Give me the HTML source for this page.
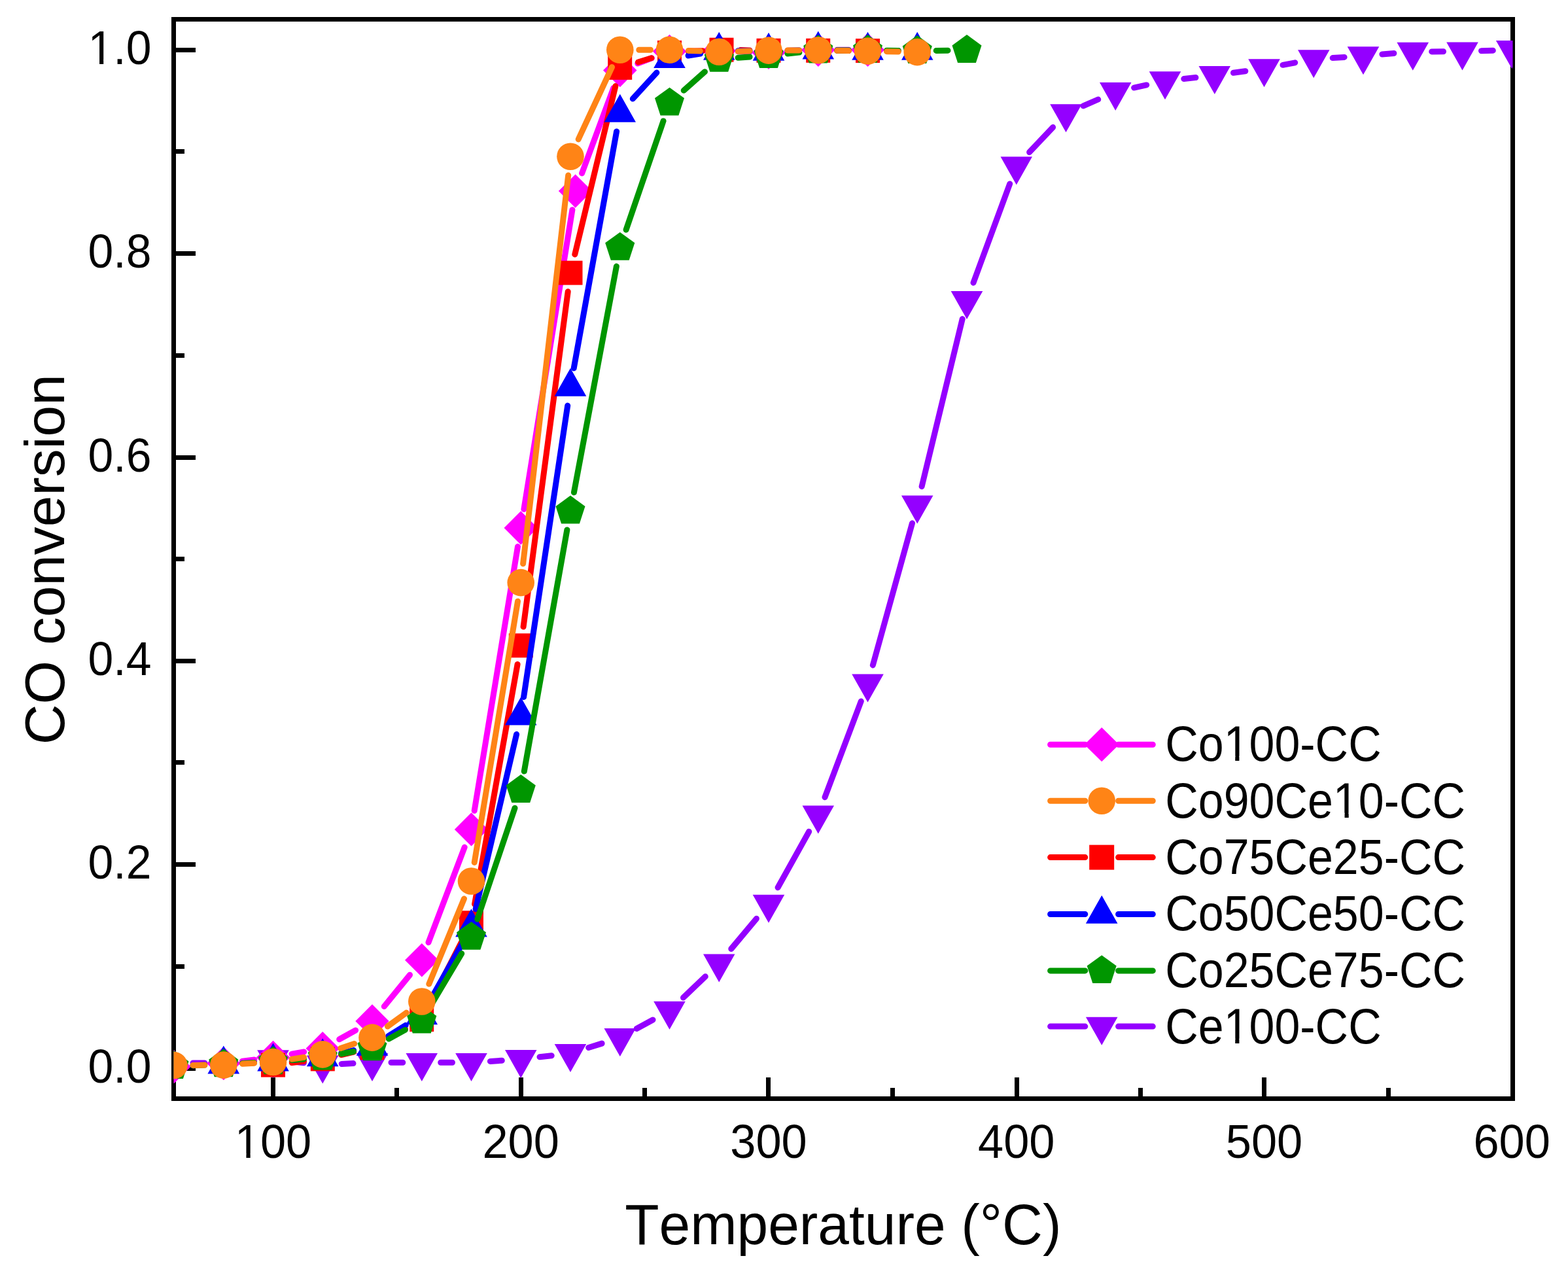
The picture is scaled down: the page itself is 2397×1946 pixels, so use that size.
<!DOCTYPE html>
<html><head><meta charset="utf-8"><title>CO conversion vs Temperature</title>
<style>html,body{margin:0;padding:0;background:#fff;width:2397px;height:1946px;overflow:hidden}svg{display:block;font-kerning:none;font-feature-settings:"kern" 0}</style>
</head><body>
<svg width="2397" height="1946" viewBox="0 0 2397 1946" font-family="'Liberation Sans', Arial, sans-serif" fill="#000">
<rect x="0" y="0" width="2397" height="1946" fill="#fff"/>
<path d="M265.5 1633.5H299M265.5 1321.5H299M265.5 1010.5H299M265.5 699.5H299M265.5 387.5H299M265.5 76.5H299M265.5 1477.5H282M265.5 1165.5H282M265.5 854.5H282M265.5 543.5H282M265.5 231.5H282M417.5 1679.5V1647M796.5 1679.5V1647M1174.5 1679.5V1647M1554.5 1679.5V1647M1932.5 1679.5V1647M606.5 1679.5V1663M985.5 1679.5V1663M1364.5 1679.5V1663M1743.5 1679.5V1663M2122.5 1679.5V1663" stroke="#000" stroke-width="7" fill="none"/>
<rect x="265.5" y="29.5" width="2047" height="1650" stroke="#000" stroke-width="7" fill="none"/>
<clipPath id="c"><rect x="265.5" y="29.5" width="2047" height="1650"/></clipPath>
<g clip-path="url(#c)">
<path d="M295 1625L312.8 1625M370.7 1622.9L388.6 1621.6M446.3 1622.7L464.4 1624.7M522.2 1626.4L540 1625.6M598 1624.2L615.8 1624.2M673.7 1624.3L691.5 1624.3M749.4 1622.4L767.3 1621.2M825 1615.8L843.2 1613.7M899.7 1601.5L920.1 1595.1M973.2 1572.5L998 1559M1044.5 1525.1L1078.3 1492.8M1117.8 1450.5L1156.4 1404.3M1189.1 1356.7L1236.7 1271.2M1261 1218.7L1316.3 1072M1334.3 1016.9L1394.5 799.8M1409.1 743.7L1471.2 487.6M1488 432.2L1543.7 281M1573.6 232.7L1609.6 194.6M1656.1 161.9L1678.7 152M1733.6 134.1L1752.7 129.9M1809.8 120.5L1827.9 118.6M1885.5 111.3L1903.8 108.7M1961 99.3L1979.7 95.8M2037.2 88.6L2055.1 87.4M2112.9 83L2130.9 81.5M2188.7 78.9L2206.5 78.8M2264.5 77.7L2282.3 77.2" stroke="#9400FF" stroke-width="9" stroke-linecap="round" fill="none"/>
<polygon points="417.5,1648.2 441.8,1605.2 393.2,1605.2" fill="#9400FF"/>
<polygon points="493.2,1656.5 517.5,1613.5 468.9,1613.5" fill="#9400FF"/>
<polygon points="569,1652.9 593.3,1609.9 544.7,1609.9" fill="#9400FF"/>
<polygon points="644.8,1652.9 669,1609.9 620.5,1609.9" fill="#9400FF"/>
<polygon points="720.5,1653.1 744.8,1610.1 696.2,1610.1" fill="#9400FF"/>
<polygon points="796.2,1647.9 820.5,1604.9 772,1604.9" fill="#9400FF"/>
<polygon points="872,1638.9 896.3,1595.9 847.7,1595.9" fill="#9400FF"/>
<polygon points="947.8,1615.1 972,1572.1 923.5,1572.1" fill="#9400FF"/>
<polygon points="1023.5,1573.8 1047.8,1530.8 999.2,1530.8" fill="#9400FF"/>
<polygon points="1099.2,1501.4 1123.5,1458.4 1075,1458.4" fill="#9400FF"/>
<polygon points="1175,1410.7 1199.3,1367.7 1150.7,1367.7" fill="#9400FF"/>
<polygon points="1250.8,1274.5 1275,1231.5 1226.5,1231.5" fill="#9400FF"/>
<polygon points="1326.5,1073.5 1350.8,1030.5 1302.2,1030.5" fill="#9400FF"/>
<polygon points="1402.2,800.5 1426.5,757.5 1378,757.5" fill="#9400FF"/>
<polygon points="1478,488.1 1502.3,445.1 1453.7,445.1" fill="#9400FF"/>
<polygon points="1553.8,282.5 1578,239.5 1529.5,239.5" fill="#9400FF"/>
<polygon points="1629.5,202.2 1653.8,159.2 1605.2,159.2" fill="#9400FF"/>
<polygon points="1705.2,169 1729.5,126 1681,126" fill="#9400FF"/>
<polygon points="1781,152.3 1805.3,109.3 1756.7,109.3" fill="#9400FF"/>
<polygon points="1856.8,144.1 1881,101.1 1832.5,101.1" fill="#9400FF"/>
<polygon points="1932.5,133.2 1956.8,90.2 1908.2,90.2" fill="#9400FF"/>
<polygon points="2008.2,119.2 2032.5,76.2 1984,76.2" fill="#9400FF"/>
<polygon points="2084,114.2 2108.3,71.2 2059.7,71.2" fill="#9400FF"/>
<polygon points="2159.8,107.7 2184.1,64.7 2135.4,64.7" fill="#9400FF"/>
<polygon points="2235.5,107.4 2259.8,64.4 2211.2,64.4" fill="#9400FF"/>
<polygon points="2311.2,104.9 2335.6,61.9 2286.9,61.9" fill="#9400FF"/>
<path d="M294.9 1628.7L312.8 1627.5M370.5 1622.1L388.7 1619.9M446 1611.3L464.7 1607.9M518.7 1588.8L543.6 1575M587.3 1538.5L626.5 1490.3M655 1440.7L710.2 1295.1M725.2 1239.3L791.5 835.6M800.9 778.4L874.9 320.7M889.6 264.9L937.7 134.7M974.8 97.1L996.4 88.8M1052.5 78.1L1070.3 78M1128.2 78.8L1146 79.4M1204 78.8L1221.8 77.8M1279.8 76.2L1297.5 76.2" stroke="#FF00FF" stroke-width="9" stroke-linecap="round" fill="none"/>
<polygon points="266,1604.9 291.7,1630.6 266,1656.3 240.3,1630.6" fill="#FF00FF"/>
<polygon points="341.8,1599.9 367.4,1625.6 341.8,1651.3 316.1,1625.6" fill="#FF00FF"/>
<polygon points="417.5,1590.8 443.2,1616.5 417.5,1642.2 391.8,1616.5" fill="#FF00FF"/>
<polygon points="493.2,1577.1 519,1602.8 493.2,1628.5 467.6,1602.8" fill="#FF00FF"/>
<polygon points="569,1535.3 594.7,1561 569,1586.7 543.3,1561" fill="#FF00FF"/>
<polygon points="644.8,1442.1 670.5,1467.8 644.8,1493.5 619,1467.8" fill="#FF00FF"/>
<polygon points="720.5,1242.2 746.2,1267.9 720.5,1293.6 694.8,1267.9" fill="#FF00FF"/>
<polygon points="796.2,781.3 822,807 796.2,832.7 770.5,807" fill="#FF00FF"/>
<polygon points="879.6,266.4 905.3,292.1 879.6,317.8 853.9,292.1" fill="#FF00FF"/>
<polygon points="947.8,81.8 973.5,107.5 947.8,133.2 922,107.5" fill="#FF00FF"/>
<polygon points="1023.5,52.7 1049.2,78.4 1023.5,104.1 997.8,78.4" fill="#FF00FF"/>
<polygon points="1099.2,52.1 1125,77.8 1099.2,103.5 1073.5,77.8" fill="#FF00FF"/>
<polygon points="1175,54.7 1200.7,80.4 1175,106.1 1149.3,80.4" fill="#FF00FF"/>
<polygon points="1250.8,50.5 1276.5,76.2 1250.8,101.9 1225,76.2" fill="#FF00FF"/>
<polygon points="1326.5,50.5 1352.2,76.2 1326.5,101.9 1300.8,76.2" fill="#FF00FF"/>
<path d="M446.3 1624.6L464.5 1622.4M521.5 1612.5L540.7 1608.1M594.2 1587.3L619.5 1572.9M658 1532.7L707.3 1436.5M725.6 1382.1L791.1 1015.4M800.1 958.1L868.2 445.8M878.8 388.9L940.9 131.6M975.5 95L995.8 88.8M1052.5 78.9L1074.1 77.7M1132 76.6L1146 76.9M1204 77.3L1221.8 77.3M1279.7 77.4L1297.5 77.5" stroke="#FF0000" stroke-width="9" stroke-linecap="round" fill="none"/>
<rect x="399" y="1609.6" width="37" height="37" fill="#FF0000"/>
<rect x="474.8" y="1600.4" width="37" height="37" fill="#FF0000"/>
<rect x="550.5" y="1583.2" width="37" height="37" fill="#FF0000"/>
<rect x="626.2" y="1540.1" width="37" height="37" fill="#FF0000"/>
<rect x="702" y="1392.2" width="37" height="37" fill="#FF0000"/>
<rect x="777.8" y="968.3" width="37" height="37" fill="#FF0000"/>
<rect x="853.5" y="398.6" width="37" height="37" fill="#FF0000"/>
<rect x="929.2" y="84.9" width="37" height="37" fill="#FF0000"/>
<rect x="1005" y="61.9" width="37" height="37" fill="#FF0000"/>
<rect x="1084.5" y="57.7" width="37" height="37" fill="#FF0000"/>
<rect x="1156.5" y="58.8" width="37" height="37" fill="#FF0000"/>
<rect x="1232.2" y="58.8" width="37" height="37" fill="#FF0000"/>
<rect x="1308" y="59.1" width="37" height="37" fill="#FF0000"/>
<path d="M370.7 1625.6L388.5 1624.7M446.4 1620.4L464.4 1618.7M521.6 1609.8L540.7 1605.6M593.6 1583.9L620.2 1567.3M659 1526.6L706.2 1443.2M727.1 1389.8L789.6 1122.5M800.6 1065.5L867.7 620.1M877.2 562.9L942.6 200.9M967.3 151L1003.9 111M1052.1 85L1070.6 82M1128.2 77.8L1146 78M1204 77.5L1221.8 77M1279.7 76.7L1297.5 77M1355.5 77.4L1373.2 77.4" stroke="#0000FF" stroke-width="9" stroke-linecap="round" fill="none"/>
<polygon points="341.8,1598.5 366.1,1641.5 317.4,1641.5" fill="#0000FF"/>
<polygon points="417.5,1594.5 441.8,1637.5 393.2,1637.5" fill="#0000FF"/>
<polygon points="493.2,1587.3 517.5,1630.3 468.9,1630.3" fill="#0000FF"/>
<polygon points="569,1570.7 593.3,1613.7 544.7,1613.7" fill="#0000FF"/>
<polygon points="644.8,1523.2 669,1566.2 620.5,1566.2" fill="#0000FF"/>
<polygon points="720.5,1389.3 744.8,1432.3 696.2,1432.3" fill="#0000FF"/>
<polygon points="796.2,1065.5 820.5,1108.5 772,1108.5" fill="#0000FF"/>
<polygon points="872,562.8 896.3,605.8 847.7,605.8" fill="#0000FF"/>
<polygon points="947.8,143.7 972,186.7 923.5,186.7" fill="#0000FF"/>
<polygon points="1023.5,60.9 1047.8,103.9 999.2,103.9" fill="#0000FF"/>
<polygon points="1099.2,48.8 1123.5,91.8 1075,91.8" fill="#0000FF"/>
<polygon points="1175,49.7 1199.3,92.7 1150.7,92.7" fill="#0000FF"/>
<polygon points="1250.8,47.5 1275,90.5 1226.5,90.5" fill="#0000FF"/>
<polygon points="1326.5,48.8 1350.8,91.8 1302.2,91.8" fill="#0000FF"/>
<polygon points="1402.2,48.8 1426.5,91.8 1378,91.8" fill="#0000FF"/>
<path d="M295 1628.7L312.8 1628.1M370.7 1625.6L388.5 1624.6M446.4 1620.5L464.4 1618.9M521.8 1611L540.5 1607.5M594.4 1588.1L619.3 1574.4M659.5 1535.5L705.7 1457.6M729.8 1405.1L787 1235.2M801.3 1179.1L866.9 809.9M877.4 752.8L942.4 407.1M957.1 351.2L1014.1 184.9M1045.2 138.3L1077.5 109.7M1128.2 88.3L1146.1 87M1203.9 81.9L1221.9 80.1M1279.7 77.1L1297.5 77M1355.5 77.2L1373.3 77.4M1431.2 77.4L1449 77.2" stroke="#009600" stroke-width="9" stroke-linecap="round" fill="none"/>
<polygon points="266,1606 288.5,1622.4 279.9,1648.9 252.1,1648.9 243.5,1622.4" fill="#009600"/>
<polygon points="341.8,1603.3 364.3,1619.7 355.7,1646.2 327.8,1646.2 319.2,1619.7" fill="#009600"/>
<polygon points="417.5,1599.4 440,1615.8 431.4,1642.3 403.6,1642.3 395,1615.8" fill="#009600"/>
<polygon points="493.2,1592.6 515.8,1609 507.2,1635.5 479.3,1635.5 470.7,1609" fill="#009600"/>
<polygon points="569,1578.4 591.5,1594.8 582.9,1621.3 555.1,1621.3 546.5,1594.8" fill="#009600"/>
<polygon points="644.8,1536.7 667.3,1553.1 658.7,1579.6 630.8,1579.6 622.2,1553.1" fill="#009600"/>
<polygon points="720.5,1408.9 743,1425.3 734.4,1451.8 706.6,1451.8 698,1425.3" fill="#009600"/>
<polygon points="796.2,1184 818.8,1200.4 810.2,1226.9 782.3,1226.9 773.7,1200.4" fill="#009600"/>
<polygon points="872,757.6 894.5,774 885.9,800.5 858.1,800.5 849.5,774" fill="#009600"/>
<polygon points="947.8,354.9 970.3,371.3 961.7,397.8 933.8,397.8 925.2,371.3" fill="#009600"/>
<polygon points="1023.5,133.8 1046,150.1 1037.4,176.6 1009.6,176.6 1001,150.1" fill="#009600"/>
<polygon points="1099.2,66.8 1121.8,83.2 1113.2,109.7 1085.3,109.7 1076.7,83.2" fill="#009600"/>
<polygon points="1175,61.1 1197.5,77.4 1188.9,103.9 1161.1,103.9 1152.5,77.4" fill="#009600"/>
<polygon points="1250.8,53.6 1273.3,70 1264.7,96.5 1236.8,96.5 1228.2,70" fill="#009600"/>
<polygon points="1326.5,53.1 1349,69.5 1340.4,96 1312.6,96 1304,69.5" fill="#009600"/>
<polygon points="1402.2,54.1 1424.8,70.4 1416.2,96.9 1388.3,96.9 1379.7,70.4" fill="#009600"/>
<polygon points="1478,53.1 1500.5,69.5 1491.9,96 1464.1,96 1455.5,69.5" fill="#009600"/>
<path d="M295 1628.4L312.8 1628.3M370.7 1626.3L388.6 1625.2M446.2 1619.1L464.6 1616.3M520.7 1602.6L541.6 1595.5M592.5 1569L621.3 1548.1M655.8 1504.2L709.5 1373.8M725.2 1318.4L791.5 919.2M799.6 861.8L868.7 268M884.2 212.9L935.5 102.5M976.8 76.2L994.5 76.2M1052.5 77.4L1070.3 78.1M1128.2 78.5L1146 78M1204 77L1221.8 76.9M1279.7 77.3L1297.5 77.6M1355.5 78.7L1373.3 79" stroke="#FF8416" stroke-width="9" stroke-linecap="round" fill="none"/>
<circle cx="266" cy="1628.6" r="20.8" fill="#FF8416"/>
<circle cx="341.8" cy="1628.1" r="20.8" fill="#FF8416"/>
<circle cx="417.5" cy="1623.5" r="20.8" fill="#FF8416"/>
<circle cx="493.2" cy="1611.9" r="20.8" fill="#FF8416"/>
<circle cx="569" cy="1586.1" r="20.8" fill="#FF8416"/>
<circle cx="644.8" cy="1531" r="20.8" fill="#FF8416"/>
<circle cx="720.5" cy="1347" r="20.8" fill="#FF8416"/>
<circle cx="796.2" cy="890.6" r="20.8" fill="#FF8416"/>
<circle cx="872" cy="239.2" r="20.8" fill="#FF8416"/>
<circle cx="947.8" cy="76.2" r="20.8" fill="#FF8416"/>
<circle cx="1023.5" cy="76.2" r="20.8" fill="#FF8416"/>
<circle cx="1099.2" cy="79.3" r="20.8" fill="#FF8416"/>
<circle cx="1175" cy="77.1" r="20.8" fill="#FF8416"/>
<circle cx="1250.8" cy="76.8" r="20.8" fill="#FF8416"/>
<circle cx="1326.5" cy="78.1" r="20.8" fill="#FF8416"/>
<circle cx="1402.2" cy="79.6" r="20.8" fill="#FF8416"/>
</g>
<g transform="translate(228.5 0) scale(0.975 1) translate(-228.5 0)"><text x="231.5" y="1654.8" text-anchor="end" font-size="71.5">0.0</text></g>
<g transform="translate(228.5 0) scale(0.975 1) translate(-228.5 0)"><text x="231.5" y="1343.5" text-anchor="end" font-size="71.5">0.2</text></g>
<g transform="translate(228.5 0) scale(0.975 1) translate(-228.5 0)"><text x="231.5" y="1032.2" text-anchor="end" font-size="71.5">0.4</text></g>
<g transform="translate(228.5 0) scale(0.975 1) translate(-228.5 0)"><text x="231.5" y="720.8" text-anchor="end" font-size="71.5">0.6</text></g>
<g transform="translate(228.5 0) scale(0.975 1) translate(-228.5 0)"><text x="231.5" y="409.5" text-anchor="end" font-size="71.5">0.8</text></g>
<g transform="translate(228.5 0) scale(0.975 1) translate(-228.5 0)"><text x="231.5" y="98.2" text-anchor="end" font-size="71.5">1.0</text><g fill="#fff"><rect x="136.39" y="91.36" width="13.69" height="7.64"/><rect x="156.40" y="91.36" width="13.48" height="7.64"/></g></g>
<g transform="translate(417.5 0) scale(0.985 1) translate(-417.5 0)"><text x="417.5" y="1770.3" text-anchor="middle" font-size="71.5">100</text><g fill="#fff"><rect x="362.14" y="1763.46" width="13.69" height="7.64"/><rect x="382.15" y="1763.46" width="13.48" height="7.64"/></g></g>
<g transform="translate(796.2 0) scale(0.985 1) translate(-796.2 0)"><text x="796.2" y="1770.3" text-anchor="middle" font-size="71.5">200</text></g>
<g transform="translate(1175 0) scale(0.985 1) translate(-1175 0)"><text x="1175" y="1770.3" text-anchor="middle" font-size="71.5">300</text></g>
<g transform="translate(1553.8 0) scale(0.985 1) translate(-1553.8 0)"><text x="1553.8" y="1770.3" text-anchor="middle" font-size="71.5">400</text></g>
<g transform="translate(1932.5 0) scale(0.985 1) translate(-1932.5 0)"><text x="1932.5" y="1770.3" text-anchor="middle" font-size="71.5">500</text></g>
<g transform="translate(2311.2 0) scale(0.985 1) translate(-2311.2 0)"><text x="2311.2" y="1770.3" text-anchor="middle" font-size="71.5">600</text></g>
<g transform="matrix(0.96789 0 0 0.98518 43.21 27.99)"><text x="1287" y="1902.7" text-anchor="middle" font-size="88.5">Temperature (°C)</text></g>
<g transform="matrix(0.97319 0 0 0.96713 2.75 27.50)"><text transform="translate(98 855.9) rotate(-90)" x="0" y="0" text-anchor="middle" font-size="88.5">CO conversion</text></g>
<g transform="matrix(0.98511 0 0 1.05918 26.29 -67.87)"><text x="1781.5" y="1162" font-size="71">Co100-CC</text><g fill="#fff"><rect x="1876.51" y="1155.20" width="13.60" height="7.60"/><rect x="1896.39" y="1155.20" width="13.39" height="7.60"/></g></g>
<g transform="matrix(0.98540 0 0 1.05918 25.76 -72.06)"><text x="1781.5" y="1248" font-size="71">Co90Ce10-CC</text><g fill="#fff"><rect x="2046.25" y="1241.20" width="13.60" height="7.60"/><rect x="2066.12" y="1241.20" width="13.39" height="7.60"/></g></g>
<g transform="matrix(0.98540 0 0 1.05918 25.76 -77.35)"><text x="1781.5" y="1334.4" font-size="71">Co75Ce25-CC</text></g>
<g transform="matrix(0.98540 0 0 1.05918 25.76 -83.30)"><text x="1781.5" y="1421.3" font-size="71">Co50Ce50-CC</text></g>
<g transform="matrix(0.98540 0 0 1.05918 25.76 -88.35)"><text x="1781.5" y="1507.7" font-size="71">Co25Ce75-CC</text></g>
<g transform="matrix(0.98511 0 0 1.05918 26.29 -92.18)"><text x="1781.5" y="1592.9" font-size="71">Ce100-CC</text><g fill="#fff"><rect x="1876.51" y="1586.10" width="13.60" height="7.60"/><rect x="1896.39" y="1586.10" width="13.39" height="7.60"/></g></g>
<path d="M1605.6 1138.2H1658.8M1709.6 1138.2H1762.3" stroke="#FF00FF" stroke-width="9" stroke-linecap="round"/>
<polygon points="1684.2,1112.1 1710.7,1138.2 1684.2,1164.3 1657.7,1138.2" fill="#FF00FF"/>
<path d="M1605.6 1224.2H1658.8M1709.6 1224.2H1762.3" stroke="#FF8416" stroke-width="9" stroke-linecap="round"/>
<circle cx="1684.2" cy="1224.2" r="20.8" fill="#FF8416"/>
<path d="M1605.6 1310.6H1658.8M1709.6 1310.6H1762.3" stroke="#FF0000" stroke-width="9" stroke-linecap="round"/>
<rect x="1665.2" y="1291.6" width="38" height="38" fill="#FF0000"/>
<path d="M1605.6 1397.5H1658.8M1709.6 1397.5H1762.3" stroke="#0000FF" stroke-width="9" stroke-linecap="round"/>
<polygon points="1684.2,1368.8 1708.5,1411.8 1659.9,1411.8" fill="#0000FF"/>
<path d="M1605.6 1483.9H1658.8M1709.6 1483.9H1762.3" stroke="#009600" stroke-width="9" stroke-linecap="round"/>
<polygon points="1684.2,1460.2 1706.7,1476.6 1698.1,1503.1 1670.3,1503.1 1661.7,1476.6" fill="#009600"/>
<path d="M1605.6 1569.1H1658.8M1709.6 1569.1H1762.3" stroke="#9400FF" stroke-width="9" stroke-linecap="round"/>
<polygon points="1684.2,1597.8 1708.5,1554.8 1659.9,1554.8" fill="#9400FF"/>
</svg>
</body></html>
